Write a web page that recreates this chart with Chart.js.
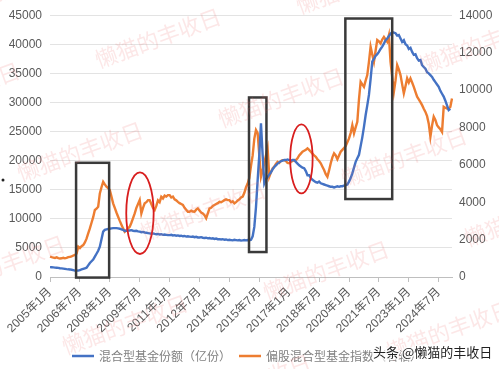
<!DOCTYPE html>
<html>
<head>
<meta charset="utf-8">
<script src="https://cdn.jsdelivr.net/npm/chart.js@4/dist/chart.umd.min.js"></script>
<style>
  html, body { margin: 0; padding: 0; background: #fff; }
  #wrap { width: 499px; height: 369px; position: relative; }
</style>
</head>
<body>
<div id="wrap"><canvas id="fundChart"></canvas></div>
<script>
// monthly data, 2005-01 .. 2025-03
const startYear = 2005;
const monthCount = 243;

// 混合型基金份额（亿份）, left axis
const fundShares = [
    1700, 1680, 1650, 1620, 1600, 1560, 1500, 1480, 1450, 1400, 1350, 1320,
    1300, 1250, 1180, 1100, 1120, 1100, 1200, 1300, 1400, 1500, 1600, 2000,
    2400, 2700, 3000, 3500, 4000, 4500, 5200, 6500, 7800, 8100, 8200, 8250,
    8300, 8350, 8400, 8400, 8400, 8350, 8300, 8200, 8100, 7900, 7950, 8000,
    8000, 8050, 7950, 7900, 7950, 7850, 7800, 7700, 7750, 7650, 7600, 7550,
    7500, 7450, 7500, 7400, 7350, 7400, 7300, 7350, 7250, 7300, 7250, 7200,
    7200, 7250, 7150, 7200, 7100, 7150, 7050, 7100, 7000, 7050, 6950, 7000,
    6950, 6900, 6950, 6850, 6900, 6800, 6800, 6850, 6750, 6700, 6750, 6650,
    6700, 6600, 6650, 6550, 6600, 6500, 6500, 6450, 6500, 6400, 6450, 6350,
    6400, 6350, 6300, 6400, 6350, 6300, 6350, 6250, 6300, 6350, 6300, 6350,
    6300, 6400, 7000, 8600, 12000, 16600, 21000, 26400, 21000, 16100, 16800, 17200,
    17600, 18000, 18500, 18900, 19200, 19500, 19700, 19900, 20000, 20100, 20100, 20200,
    20100, 20000, 20100, 20100, 19800, 19500, 19200, 19000, 18800, 18700, 18200, 17500,
    17500, 17000, 16700, 16500, 16300, 16200, 16400, 16100, 16000, 15900, 15800, 15700,
    15600, 15500, 15500, 15400, 15500, 15600, 15500, 15600, 15600, 15700, 15800, 15900,
    16400, 17000, 17800, 18800, 19800, 20400, 21000, 22500, 24000, 25800, 27800, 29500,
    31300, 34000, 37000, 37500, 38000, 38300, 38700, 39200, 39600, 40100, 40700, 41000,
    41400, 41800, 42100, 42000, 41900, 41500, 41600, 41000, 40400, 40700, 40000, 39800,
    39200, 39400, 38700, 38200, 38300, 37600, 37200, 37300, 36400, 36100, 35800, 35200,
    35000, 34700, 34400, 33900, 33500, 33100, 32700, 32000, 31500, 31000, 30300, 29500,
    28700, 28900, null
];

// 偏股混合型基金指数, right axis
const fundIndex = [
    1085, 1060, 1040, 1020, 1050, 1010, 990, 1000, 1030, 1000, 1020, 1060,
    1080, 1100, 1150, 1175, 1250, 1620, 1550, 1650, 1710, 1850, 2050, 2335,
    2600, 2900, 3200, 3580, 3650, 3760, 4470, 4800, 5090, 4950, 4830, 4750,
    4650, 4300, 3940, 3700, 3450, 3220, 3000, 2800, 2600, 2420, 2500, 2600,
    2690, 2900, 3150, 3400, 3700, 3900, 4110, 3400, 3700, 3940, 4000, 4110,
    4110, 3900, 3700, 3580, 3800, 4100, 4000, 4290, 4200, 4350, 4300, 4380,
    4380, 4250, 4300, 4150, 4100, 4020, 3950, 3900, 3850, 3700, 3600, 3490,
    3490, 3550, 3500, 3490, 3600, 3670, 3550, 3450, 3400, 3300, 3140, 3400,
    3670, 3700, 3800, 3850, 3900, 3950, 4020, 4000, 4050, 4110, 4150, 4110,
    4110, 4000, 4050, 3940, 4000, 4100, 4150, 4250, 4300, 4500, 4800, 5000,
    5300, 5950, 6500, 7400, 7860, 7700, 6500, 5360, 5700, 6080, 6500, 6880,
    5360, 5600, 5810, 5900, 6050, 6160, 6100, 6200, 6250, 6250, 6200, 6100,
    6080, 6150, 6200, 6250, 6250, 6350, 6500, 6600, 6700, 6750, 6800, 6880,
    6800, 6700, 6600, 6500, 6430, 6300, 6200, 6080, 5900, 5720, 5500, 5360,
    5700, 6080, 6400, 6610, 6500, 6300, 6500, 6700, 6800, 6900, 7000, 7200,
    7410, 7700, 8120, 7680, 8000, 8300, 9500, 10440, 10300, 10170, 10500, 10800,
    11500, 12310, 11900, 11500, 12100, 12670, 12600, 12490, 12700, 12840, 12700, 12580,
    12930, 11500, 10700, 9900, 10500, 11330, 11100, 10800, 10300, 9820, 10200, 10620,
    10400, 10620, 10400, 10170, 9900, 9640, 9500, 9350, 9190, 9000, 8830, 8600,
    8200, 7500, 8100, 8570, 8400, 8120, 8000, 7900, 7760, 9100, 9050, 9010,
    9010, 9100, 9550
];

const labelEvery = 18;
const seriesNames = ['混合型基金份额（亿份）', '偏股混合型基金指数（右轴）'];
const seriesColors = ['#4472C4', '#ED7D31'];

// hand-drawn marks on the picture, in data units (month index, left axis value)
const boxes = [
    { x0: 15.7, x1: 35.6, y0: -100, y1: 19630 },
    { x0: 119.8, x1: 130.3, y0: 4290, y1: 30860 },
    { x0: 177.8, x1: 206, y0: 13400, y1: 44430 }
];
const rings = [
    { x0: 45.9, x1: 62.4, y0: 3950, y1: 17980 },
    { x0: 144.6, x1: 158.1, y0: 14380, y1: 26230 }
];

const labels = [];
for (let i = 0; i < monthCount; i++) {
    labels.push(`${startYear + Math.floor(i / 12)}年${i % 12 + 1}月`);
}

const cjk = '"Noto Sans CJK SC", sans-serif';
Chart.defaults.font.family = '"Liberation Sans", "Noto Sans CJK SC", sans-serif';

const extras = {
    id: 'extras',
    afterDatasetsDraw(chart) {
        const ctx = chart.ctx;
        const xs = chart.scales.x, ys = chart.scales.y;
        ctx.save();
        ctx.strokeStyle = '#3a3a3a';
        ctx.lineWidth = 2.5;
        boxes.forEach(b => {
            const l = xs.getPixelForValue(b.x0), r = xs.getPixelForValue(b.x1);
            const t = ys.getPixelForValue(b.y1), bt = ys.getPixelForValue(b.y0);
            ctx.strokeRect(l, t, r - l, bt - t);
        });
        ctx.strokeStyle = '#d81e1e';
        ctx.lineWidth = 1.8;
        rings.forEach(e => {
            const l = xs.getPixelForValue(e.x0), r = xs.getPixelForValue(e.x1);
            const t = ys.getPixelForValue(e.y1), bt = ys.getPixelForValue(e.y0);
            ctx.beginPath();
            ctx.ellipse((l + r) / 2, (t + bt) / 2, (r - l) / 2, (bt - t) / 2, 0, 0, Math.PI * 2);
            ctx.stroke();
        });
        ctx.restore();
    },
    afterDraw(chart) {
        const ctx = chart.ctx;
        ctx.save();
        // legend
        let x = 72;
        const ly = 356;
        ctx.font = '12px ' + cjk;
        ctx.textBaseline = 'middle';
        seriesNames.forEach((name, i) => {
            ctx.strokeStyle = seriesColors[i];
            ctx.lineWidth = 2.5;
            ctx.beginPath();
            ctx.moveTo(x, ly);
            ctx.lineTo(x + 22, ly);
            ctx.stroke();
            ctx.fillStyle = '#808080';
            ctx.fillText(name, x + 27, ly);
            x += 27 + ctx.measureText(name).width + 8;
        });

        // watermarks
        ctx.font = '22px ' + cjk;
        ctx.fillStyle = 'rgba(236, 110, 110, 0.17)';
        ctx.textAlign = 'center';
        for (let i = -4; i <= 4; i++) {
            for (let j = -2; j <= 6; j++) {
                const cx = 158 + i * 201 + j * 123;
                const cy = 38 - i * 54 + j * 59.5;
                if (cx < -90 || cx > 590 || cy < -40 || cy > 410) continue;
                ctx.save();
                ctx.translate(cx, cy);
                ctx.rotate(-20 * Math.PI / 180);
                ctx.fillText('懒猫的丰收日', 0, 0);
                ctx.restore();
            }
        }

        // source tag
        ctx.textAlign = 'left';
        ctx.font = '13px ' + cjk;
        ctx.lineWidth = 3;
        ctx.strokeStyle = 'rgba(255,255,255,0.85)';
        ctx.strokeText('头条 @懒猫的丰收日', 373, 352);
        ctx.fillStyle = '#222';
        ctx.fillText('头条 @懒猫的丰收日', 373, 352);

        ctx.beginPath();
        ctx.arc(3, 180, 1.5, 0, Math.PI * 2);
        ctx.fill();
        ctx.restore();
    }
};

const plainTick = value => String(value);

const ctx = document.getElementById('fundChart').getContext('2d');
new Chart(ctx, {
    type: 'line',
    data: {
        labels: labels,
        datasets: [{
            label: seriesNames[0],
            data: fundShares,
            borderColor: seriesColors[0],
            backgroundColor: seriesColors[0],
            borderWidth: 2.4,
            pointRadius: 0,
            yAxisID: 'y'
        }, {
            label: seriesNames[1],
            data: fundIndex,
            borderColor: seriesColors[1],
            backgroundColor: seriesColors[1],
            borderWidth: 2.4,
            pointRadius: 0,
            yAxisID: 'y1'
        }]
    },
    options: {
        responsive: true,
        maintainAspectRatio: false,
        animation: false,
        layout: { padding: { top: 15, left: 0, right: 0, bottom: 0 } },
        plugins: {
            legend: { display: false },
            tooltip: { enabled: false }
        },
        scales: {
            x: {
                afterBuildTicks: scale => {
                    scale.ticks = scale.ticks.filter(t => t.value % labelEvery === 0);
                },
                afterFit: scale => { scale.height = 92; },
                ticks: {
                    autoSkip: false,
                    maxRotation: 45,
                    minRotation: 45,
                    padding: 3,
                    color: '#595959',
                    font: { size: 12 }
                },
                grid: { drawOnChartArea: false, tickLength: 5, color: '#bfbfbf' },
                border: { color: '#bfbfbf' }
            },
            y: {
                position: 'left',
                min: 0,
                max: 45000,
                afterFit: scale => { scale.width = 50; },
                ticks: { stepSize: 5000, padding: 8, color: '#595959', font: { size: 12 }, callback: plainTick },
                grid: { color: '#e3e3e3', drawTicks: false },
                border: { display: false }
            },
            y1: {
                position: 'right',
                min: 0,
                max: 14000,
                afterFit: scale => { scale.width = 47; },
                ticks: { stepSize: 2000, padding: 7, color: '#595959', font: { size: 12 }, callback: plainTick },
                grid: { display: false, drawTicks: false },
                border: { display: false }
            }
        }
    },
    plugins: [extras]
});
</script>
</body>
</html>
